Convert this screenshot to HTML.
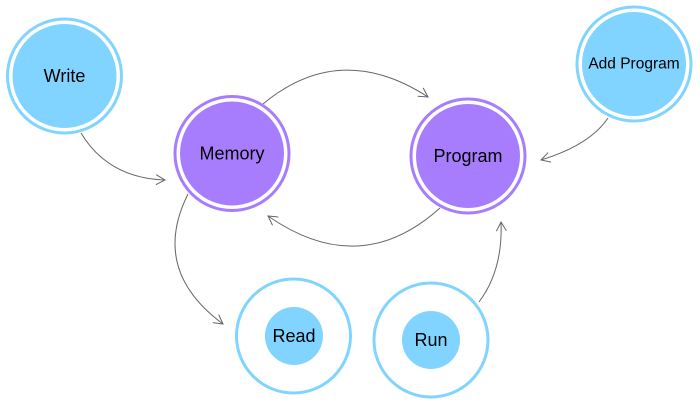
<!DOCTYPE html>
<html><head><meta charset="utf-8"><style>
html,body{margin:0;padding:0;background:#fff;}
svg{display:block}
text{font-family:"Liberation Sans",Arial,sans-serif;font-size:18px;fill:#000;text-anchor:middle;dominant-baseline:central}
</style></head><body>
<svg width="700" height="408" viewBox="0 0 700 408">
<defs>
<marker id="a" markerWidth="12" markerHeight="12" refX="10" refY="6" orient="auto" markerUnits="userSpaceOnUse">
<path d="M1,1 L10,6 L1,11" fill="none" stroke="#666" stroke-width="1"/>
</marker>
</defs>
<g fill="none" stroke="#666" stroke-width="1">
<path d="M81,133 Q108,178 165,180" marker-end="url(#a)"/>
<path d="M263,104 Q340,40 428,97" marker-end="url(#a)"/>
<path d="M440,208 Q360,280 268,216" marker-end="url(#a)"/>
<path d="M188,194 Q150,270 223,324" marker-end="url(#a)"/>
<path d="M479,302 Q503,270 501,222" marker-end="url(#a)"/>
<path d="M608,118 Q590,145 541,160" marker-end="url(#a)"/>
</g>
<circle cx="64.5" cy="76" r="57" fill="#fff" stroke="#80d4ff" stroke-width="3"/>
<circle cx="64.5" cy="76" r="52" fill="#80d4ff"/>
<text x="64.5" y="76">Write</text>
<circle cx="232" cy="153.5" r="57" fill="#fff" stroke="#a87dfd" stroke-width="3"/>
<circle cx="232" cy="153.5" r="52" fill="#a87dfd"/>
<text x="232" y="153.5">Memory</text>
<circle cx="468" cy="156" r="57" fill="#fff" stroke="#a87dfd" stroke-width="3"/>
<circle cx="468" cy="156" r="52" fill="#a87dfd"/>
<text x="468" y="156">Program</text>
<circle cx="634" cy="64" r="57" fill="#fff" stroke="#80d4ff" stroke-width="3"/>
<circle cx="634" cy="64" r="52" fill="#80d4ff"/>
<text x="634" y="64" style="font-size:15.5px">Add Program</text>
<circle cx="293.5" cy="336" r="57" fill="#fff" stroke="#80d4ff" stroke-width="3"/>
<circle cx="294" cy="336" r="29" fill="#80d4ff"/>
<text x="294" y="336">Read</text>
<circle cx="431" cy="340" r="57" fill="#fff" stroke="#80d4ff" stroke-width="3"/>
<circle cx="431" cy="340" r="29" fill="#80d4ff"/>
<text x="431" y="340">Run</text>
</svg>
</body></html>
